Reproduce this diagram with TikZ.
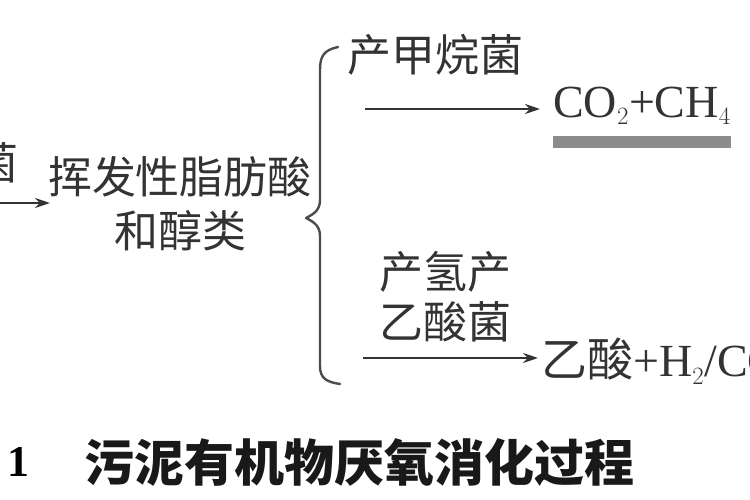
\documentclass[tikz,border=0pt]{standalone}
\usepackage{fontspec}
\setmainfont{Liberation Serif}
\newfontfamily\cjk{Noto Sans CJK SC}
\usetikzlibrary{arrows.meta,calc}
\begin{document}
\begin{tikzpicture}[x=1pt,y=-1pt,
  txt/.style={inner sep=0pt, font=\fontsize{44}{48}\selectfont\cjk, text=black!80},
  lat/.style={inner sep=0pt, font=\fontsize{46}{50}\selectfont, text=black!80},
  captxt/.style={inner sep=0pt, font=\fontsize{50}{54}\selectfont\cjk\bfseries, text=black!90},
  arr/.style={line width=2.6pt, draw=black!80, -{Stealth[length=15pt,width=10pt]}},
  brace/.style={line width=2.4pt, draw=black!70, line cap=round, line join=round}]
\useasboundingbox (0,0) rectangle (750,500);
\fill[white] (0,0) rectangle (750,500);
\clip (0,0) rectangle (750,500);
% left cut-off source
\node[txt] (jun) at (-3,163) {菌};
\coordinate (ls) at (-5,203);
\coordinate (le) at (50,203);
\draw[arr] (ls) -- (le);
% middle
\node[txt] (vfa1) at (180,177) {挥发性脂肪酸};
\node[txt] (vfa2) at (180,231) {和醇类};
% brace
\draw[brace] (338,47) .. controls (324,50) and (320,56) .. (320,70)
  -- (320,200) .. controls (320,210) and (314,214) .. (306,218)
  .. controls (314,222) and (320,226) .. (320,236)
  -- (320,366) .. controls (320,378) and (326,382) .. (340,384);
% upper branch
\node[txt] (mb) at (435,55) {产甲烷菌};
\coordinate (u1) at (365,109);
\coordinate (u2) at (540,109);
\draw[arr] (u1) -- (u2);
\node[lat, anchor=west] (p1) at (553,106) {CO$_2$+CH$_4$};
\fill[black!45] ($(p1.south west)+(0,11)$) rectangle ($(p1.south east)+(0,23)$);
% lower branch
\node[txt] (hb1) at (445,272) {产氢产};
\node[txt] (hb2) at (445,322) {乙酸菌};
\coordinate (d1) at (363,358);
\coordinate (d2) at (538,358);
\draw[arr] (d1) -- (d2);
\node[lat, anchor=west] (p2) at (541,361) {{\cjk 乙酸}+H$_2$/CO$_2$};
% caption
\node[inner sep=0pt, font=\fontsize{44}{48}\selectfont\bfseries] (num) at (19,462) {1};
\node[captxt, anchor=west] (title) at (84,462) {污泥有机物厌氧消化过程};
\end{tikzpicture}
\end{document}
